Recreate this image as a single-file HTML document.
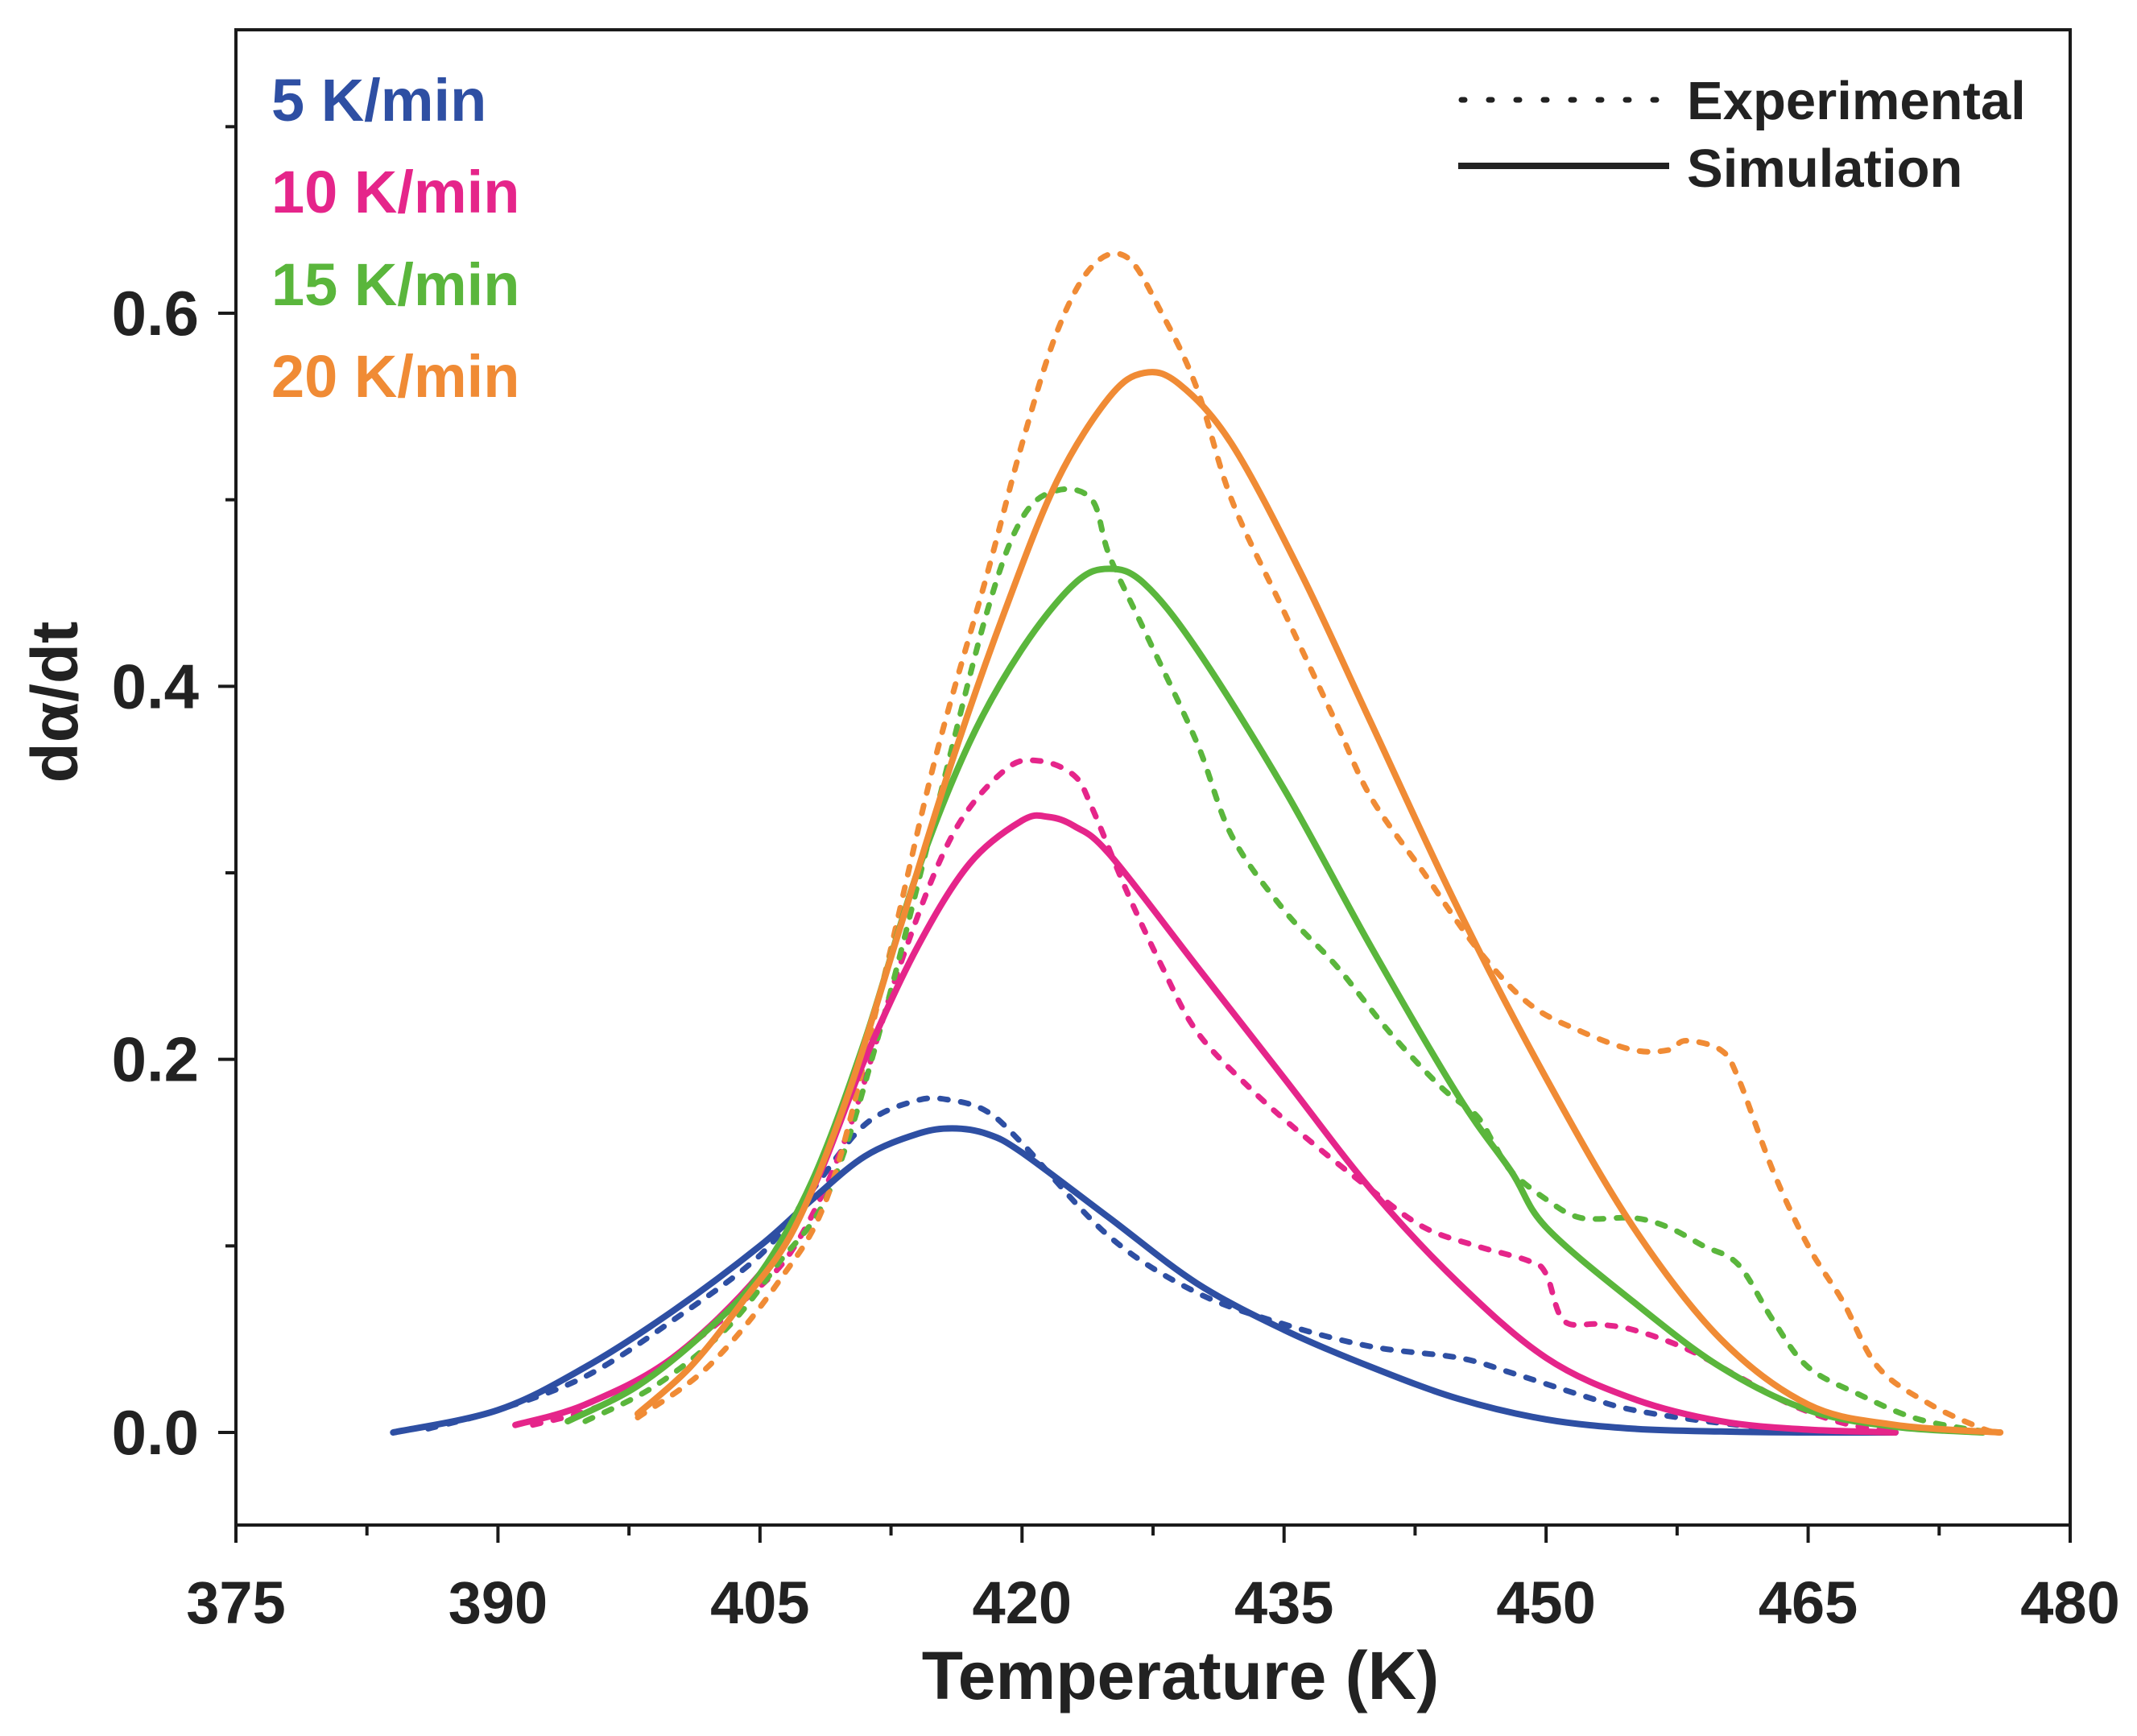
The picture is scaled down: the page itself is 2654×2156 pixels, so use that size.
<!DOCTYPE html>
<html><head><meta charset="utf-8"><style>
html,body{margin:0;padding:0;background:#fff;}
svg{display:block;font-family:"Liberation Sans",Arial,sans-serif;font-weight:bold;}
</style></head><body>
<svg id="chart" width="2654" height="2156" viewBox="0 0 2654 2156" xmlns="http://www.w3.org/2000/svg">
<rect x="293" y="37" width="2278" height="1857" fill="none" stroke="#1a1a1a" stroke-width="4"/>
<g id="ticks"></g>
<g id="series"></g>
<text x="1466" y="2110" font-size="84" text-anchor="middle" fill="#222">Temperature (K)</text>
<text transform="translate(96,872) rotate(-90)" font-size="82" text-anchor="middle" fill="#222">dα/dt</text>
<text x="337" y="150" font-size="74" fill="#2e4fa3">5 K/min</text>
<text x="337" y="264" font-size="74" fill="#e5258a">10 K/min</text>
<text x="337" y="379" font-size="74" fill="#5ab63c">15 K/min</text>
<text x="337" y="493" font-size="74" fill="#f08b35">20 K/min</text>
<line x1="1815" y1="124" x2="2073" y2="124" stroke="#222" stroke-width="7" stroke-dasharray="4,30" stroke-linecap="round"/>
<text x="2095" y="148" font-size="67" fill="#222">Experimental</text>
<line x1="1811" y1="206" x2="2073" y2="206" stroke="#222" stroke-width="8"/>
<text x="2095" y="232" font-size="67" fill="#222">Simulation</text>
</svg>
<script>
const xTicks=[375,390,405,420,435,450,465,480];
const yTicks=[0.0,0.2,0.4,0.6];
const seriesNames=["5 K/min","10 K/min","15 K/min","20 K/min"];
const blueSimT=[384,390,395,400,405,408,411,414,416,418,420,425,430,435,440,445,450,455,460,465,470];
const blueSimV=[0.0,0.012,0.035,0.065,0.1,0.125,0.148,0.16,0.163,0.16,0.15,0.115,0.08,0.055,0.035,0.018,0.007,0.002,0.0005,0,0];
const blueExpT=[386,390,395,400,405,408,411,414,416,418,420,425,430,435,440,445,448,452,455,460,465,470];
const blueExpV=[0.002,0.012,0.03,0.06,0.095,0.13,0.165,0.178,0.178,0.172,0.155,0.105,0.075,0.058,0.046,0.04,0.032,0.02,0.012,0.005,0.001,0];
const pinkSimT=[391,395,400,405,408,411,414,417,420,421.5,423,425,430,435,440,445,450,455,460,465,470];
const pinkSimV=[0.004,0.015,0.04,0.085,0.13,0.2,0.26,0.305,0.328,0.33,0.325,0.31,0.25,0.19,0.13,0.08,0.04,0.018,0.006,0.0015,0];
const pinkExpT=[392,396,400,404,407,410,413,416,419,421,423,424,426,428,430,433,436,440,443,446,449,450,451,453,455,458,461,464,467,470];
const pinkExpV=[0.004,0.015,0.04,0.07,0.1,0.16,0.25,0.32,0.355,0.36,0.352,0.335,0.29,0.25,0.215,0.185,0.16,0.13,0.11,0.1,0.092,0.085,0.06,0.058,0.055,0.045,0.03,0.015,0.005,0];
const greenSimT=[394,398,402,405,408,411,414,417,420,423,425,427,430,435,440,445,448,450,455,460,465,470,475];
const greenSimV=[0.006,0.025,0.055,0.085,0.135,0.21,0.3,0.37,0.42,0.455,0.463,0.455,0.42,0.345,0.26,0.18,0.14,0.11,0.07,0.035,0.012,0.003,0];
const greenExpT=[395,399,403,406,409,412,415,418,420,422,424,425,427,430,432,435,438,441,444,446,447,448,450,452,455,457,459,461,463,465,468,471,474,476];
const greenExpV=[0.006,0.025,0.055,0.09,0.13,0.22,0.33,0.44,0.49,0.505,0.5,0.47,0.43,0.37,0.32,0.28,0.25,0.215,0.185,0.17,0.155,0.14,0.125,0.115,0.115,0.11,0.1,0.09,0.06,0.035,0.02,0.008,0.002,0];
const orangeSimT=[398,401,404,407,410,413,416,419,422,425,427,429,432,436,440,445,450,455,460,465,470,476];
const orangeSimV=[0.01,0.035,0.07,0.11,0.18,0.27,0.36,0.44,0.51,0.555,0.568,0.562,0.53,0.46,0.38,0.28,0.19,0.11,0.05,0.015,0.004,0];
const orangeExpT=[398,402,406,409,412,415,418,420,422,424,426,428,430,432,435,438,440,443,446,449,452,455,457,458,460,461,463,465,467,469,472,475,476];
const orangeExpV=[0.008,0.035,0.08,0.13,0.24,0.36,0.46,0.53,0.59,0.625,0.63,0.6,0.56,0.5,0.44,0.38,0.34,0.3,0.26,0.23,0.215,0.205,0.205,0.21,0.205,0.19,0.14,0.1,0.07,0.035,0.015,0.002,0];

const NS="http://www.w3.org/2000/svg";
const X0=293,X1=2571,Y0=1779,Y06=389;
function sx(t){return X0+(t-375)/(480-375)*(X1-X0);}
function sy(v){return Y0+(v/0.6)*(Y06-Y0);}
const tg=document.getElementById('ticks');
function mk(tag,attrs,parent){const e=document.createElementNS(NS,tag);for(const k in attrs)e.setAttribute(k,attrs[k]);parent.appendChild(e);return e;}
for(let t=375;t<=480;t+=7.5){
  const major=xTicks.includes(t);
  const l=mk('line',{x1:sx(t),x2:sx(t),y1:1894,y2:1894+(major?22:13),stroke:'#1a1a1a','stroke-width':4},tg);
  
  
}
xTicks.forEach(t=>{
  const e=mk('text',{x:sx(t),y:2016,'font-size':74,'text-anchor':'middle',fill:'#222'},tg);
  e.textContent=t;
  
  
});
for(let i=0;i<=7;i++){
  const v=i*0.1;
  const major=(i%2===0);
  const l=mk('line',{x1:293,x2:293-(major?22:13),y1:sy(v),y2:sy(v),stroke:'#1a1a1a','stroke-width':4},tg);
  
  
}
yTicks.forEach(v=>{
  const e=mk('text',{x:247,y:sy(v)+27,'font-size':78,'text-anchor':'end',fill:'#222'},tg);
  e.textContent=v.toFixed(1);
  
  
});
const sg=document.getElementById('series');
function path(T,V){
  const P=T.map((t,i)=>[sx(t),sy(V[i])]);
  let d='M'+P[0][0].toFixed(1)+','+P[0][1].toFixed(1);
  for(let i=0;i<P.length-1;i++){
    const p0=P[Math.max(0,i-1)],p1=P[i],p2=P[i+1],p3=P[Math.min(P.length-1,i+2)];
    const c1=[p1[0]+(p2[0]-p0[0])/6,p1[1]+(p2[1]-p0[1])/6];
    const c2=[p2[0]-(p3[0]-p1[0])/6,p2[1]-(p3[1]-p1[1])/6];
    d+=' C'+c1[0].toFixed(1)+','+c1[1].toFixed(1)+' '+c2[0].toFixed(1)+','+c2[1].toFixed(1)+' '+p2[0].toFixed(1)+','+p2[1].toFixed(1);
  }
  return d;
}
const defs=[
 [blueExpT,blueExpV,'#2e4fa3',true,'series-5-k-min-experimental'],
 [pinkExpT,pinkExpV,'#e5258a',true,'series-10-k-min-experimental'],
 [greenExpT,greenExpV,'#5ab63c',true,'series-15-k-min-experimental'],
 [orangeExpT,orangeExpV,'#f08b35',true,'series-20-k-min-experimental'],
 [blueSimT,blueSimV,'#2e4fa3',false,'series-5-k-min-simulation'],
 [pinkSimT,pinkSimV,'#e5258a',false,'series-10-k-min-simulation'],
 [greenSimT,greenSimV,'#5ab63c',false,'series-15-k-min-simulation'],
 [orangeSimT,orangeSimV,'#f08b35',false,'series-20-k-min-simulation']
];
defs.forEach(d=>{
  const a={d:path(d[0],d[1]),fill:'none',stroke:d[2],'stroke-width':d[3]?7:8,'stroke-linejoin':'round','stroke-linecap':'round'};
  if(d[3])a['stroke-dasharray']='10,16';
  const p=mk('path',a,sg);
  
  
});
</script>
</body></html>
